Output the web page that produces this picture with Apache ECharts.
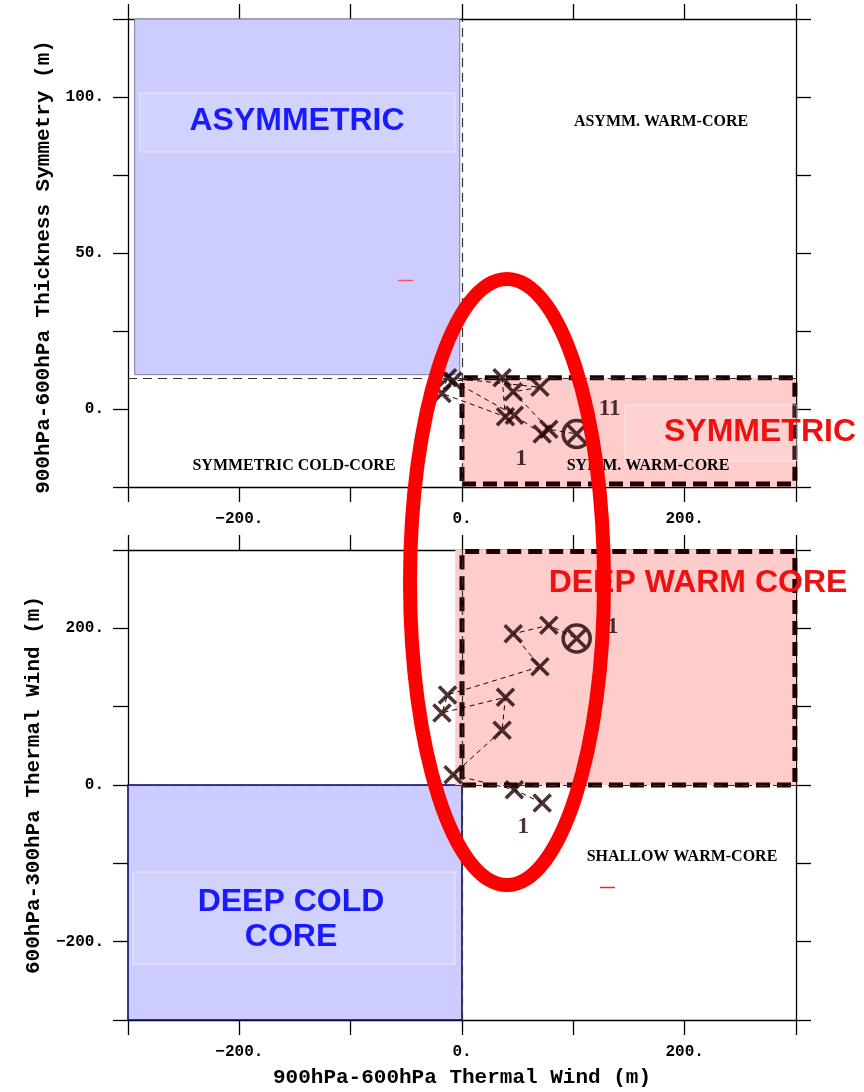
<!DOCTYPE html>
<html>
<head>
<meta charset="utf-8">
<script src="https://cdn.jsdelivr.net/npm/echarts@6/dist/echarts.min.js"></script>
<style>html,body{margin:0;padding:0;background:#fff}#c{width:864px;height:1092px}</style>
</head>
<body>
<div id="c"></div>
<script>
// ---- data (track points 1..11) ----
const lowerThermalWind = [72, 47, -8, 36, 39, -18, -13, 70, 46, 78, 103];   // 900-600hPa thermal wind (x)
const thicknessSymmetry = [-8, -2, 9, 10, -2.5, 5, 10, 7, 5.5, -6.5, -8];   // top panel y
const upperThermalWind = [-23, -6, 13, 70, 112, 92, 115, 151, 193, 204, 187]; // bottom panel y
const pointNames = ['1', '', '', '', '', '', '', '', '', '', '11'];
const xLabelValues = [-200, 0, 200];
const topYLabelValues = [0, 50, 100];
const bottomYLabelValues = [-200, 0, 200];

const DARK = '#220000';
const MONO = '"Liberation Mono", monospace';
const SERIF = '"Liberation Serif", serif';
const SANS = '"Liberation Sans", Arial, sans-serif';

function fmt(v) { return (v < 0 ? '\u2212' + (-v) : String(v)) + '.'; }
function labelFor(list) { return function (v) { return list.indexOf(v) >= 0 ? fmt(v) : ''; }; }

const topPts = lowerThermalWind.map((x, i) => [x, thicknessSymmetry[i]]);
const botPts = lowerThermalWind.map((x, i) => [x, upperThermalWind[i]]);

const chart = echarts.init(document.getElementById('c'), null, { renderer: 'canvas' });

const tickStyle = { show: true, inside: false, length: 15, lineStyle: { color: '#000', width: 1.3 } };
const lineStyleAxis = { show: true, onZero: false, lineStyle: { color: '#000', width: 1.3 } };

function xAx(grid, pos, labels, name) {
  return {
    type: 'value', gridIndex: grid, position: pos, min: -300, max: 300, interval: 100,
    axisLine: lineStyleAxis, axisTick: tickStyle, splitLine: { show: false },
    axisLabel: labels ? { show: true, margin: 24, formatter: labelFor(xLabelValues), color: '#000',
      fontFamily: MONO, fontWeight: 'bold', fontSize: 16 } : { show: false },
    name: name || '', nameLocation: 'middle', nameGap: 47,
    nameTextStyle: { fontFamily: MONO, fontWeight: 'bold', fontSize: 21, color: '#000' }
  };
}
function yAx(grid, pos, min, max, interval, vals, name, gap, pad) {
  return {
    type: 'value', gridIndex: grid, position: pos, min: min, max: max, interval: interval,
    axisLine: lineStyleAxis, axisTick: tickStyle, splitLine: { show: false },
    axisLabel: vals ? { show: true, margin: 24, formatter: labelFor(vals), color: '#000',
      fontFamily: MONO, fontWeight: 'bold', fontSize: 16 } : { show: false },
    name: name || '', nameLocation: 'middle', nameGap: gap || 0, nameRotate: 90,
    nameTextStyle: { fontFamily: MONO, fontWeight: 'bold', fontSize: 21, color: '#000', padding: pad || 0 }
  };
}

const xSymbol = 'path://M0,0L10,10M10,0L0,10';

function panelSeries(grid, pts, regions, thresholds, labelOffsets) {
  const ax = { xAxisIndex: grid * 2, yAxisIndex: grid * 2 };
  return [
    Object.assign({
      type: 'line', data: pts, symbol: 'none', z: 3, silent: true,
      lineStyle: { color: DARK, width: 1, type: [5, 4] },
      markArea: { silent: true, data: regions },
      markLine: { silent: true, symbol: 'none', label: { show: false },
        lineStyle: { color: '#333', width: 1.2, type: [9, 6] }, data: thresholds }
    }, ax),
    Object.assign({
      type: 'scatter', z: 4, symbol: xSymbol, symbolSize: 17,
      itemStyle: { color: 'rgba(0,0,0,0)', borderColor: DARK, borderWidth: 3.6 },
      data: pts.map((p, i) => ({
        value: p,
        label: pointNames[i] ? { show: true, formatter: pointNames[i], offset: labelOffsets[i],
          fontFamily: SERIF, fontWeight: 'bold', fontSize: 23, color: '#1a0000', position: 'inside' } : { show: false }
      }))
    }, ax),
    Object.assign({
      type: 'scatter', z: 4, symbol: 'circle', symbolSize: 27,
      itemStyle: { color: 'rgba(0,0,0,0)', borderColor: DARK, borderWidth: 3.6 },
      data: [pts[pts.length - 1]]
    }, ax)
  ];
}

const blueFill = { color: '#ccccff', borderColor: '#7a7a99', borderWidth: 1 };
const pinkFill = { color: '#ffcccc', borderWidth: 0 };
const dashBox = { color: 'rgba(0,0,0,0)', borderColor: DARK, borderWidth: 5, borderType: [14, 7] };

const topRegions = [
  [{ xAxis: -294, yAxis: 11, itemStyle: blueFill }, { xAxis: -2, yAxis: 125 }],
  [{ xAxis: 0, yAxis: -25, itemStyle: pinkFill }, { xAxis: 300, yAxis: 10 }],
  [{ xAxis: 0, yAxis: -24, itemStyle: dashBox }, { xAxis: 299, yAxis: 10 }]
];
const botRegions = [
  [{ xAxis: -300, yAxis: -300, itemStyle: { color: '#ccccff', borderColor: '#000066', borderWidth: 1.5 } }, { xAxis: 0, yAxis: 0 }],
  [{ xAxis: -6, yAxis: 0, itemStyle: pinkFill }, { xAxis: 300, yAxis: 300 }],
  [{ xAxis: 0, yAxis: 0, itemStyle: dashBox }, { xAxis: 299, yAxis: 298 }]
];
const topThresholds = [{ xAxis: 0 }, { yAxis: 10 }];
const botThresholds = [{ xAxis: 0 }, { yAxis: 0 }];

const topLabelOffsets = { 0: [-21, 25], 10: [33, -25] };
const botLabelOffsets = { 0: [-19, 24], 10: [31, -11] };

function smallText(t, x, y) {
  return { type: 'text', z: 6, silent: true, style: { text: t, x: x, y: y, textAlign: 'center', textVerticalAlign: 'middle',
    font: 'bold 16px ' + SERIF, fill: '#000' } };
}
function bigText(t, x, y, col) {
  return { type: 'text', z: 7, silent: true, style: { text: t, x: x, y: y, textAlign: 'center', textVerticalAlign: 'middle',
    font: 'bold 32px ' + SANS, fill: col } };
}
function softBox(x, y, w, h) {
  return { type: 'rect', z: 5, silent: true, shape: { x: x, y: y, width: w, height: h },
    style: { fill: 'rgba(255,255,255,0.12)', stroke: 'rgba(255,255,255,0.55)', lineWidth: 1 } };
}

chart.setOption({
  animation: false,
  grid: [
    { left: 128, right: 68, top: 19, height: 468, outerBoundsMode: 'none', containLabel: false },
    { left: 128, right: 68, top: 550, height: 470, outerBoundsMode: 'none', containLabel: false }
  ],
  xAxis: [
    xAx(0, 'bottom', true), xAx(0, 'top', false),
    xAx(1, 'bottom', true, '900hPa-600hPa Thermal Wind (m)'), xAx(1, 'top', false)
  ],
  yAxis: [
    yAx(0, 'left', -25, 125, 25, topYLabelValues, '900hPa-600hPa Thickness Symmetry (m)', 67, [0, 28, 0, 0]),
    yAx(0, 'right', -25, 125, 25, null),
    yAx(1, 'left', -300, 300, 100, bottomYLabelValues, '600hPa-300hPa Thermal Wind (m)', 84),
    yAx(1, 'right', -300, 300, 100, null)
  ],
  series: [].concat(
    panelSeries(0, topPts, topRegions, topThresholds, topLabelOffsets),
    panelSeries(1, botPts, botRegions, botThresholds, botLabelOffsets)
  ),
  graphic: [
    softBox(140, 93, 315, 59),
    softBox(133, 872, 322, 92),
    softBox(625, 405, 172, 56),
    bigText('ASYMMETRIC', 297, 121, '#1a1aff'),
    bigText('SYMMETRIC', 760, 432, '#ee1111'),
    bigText('DEEP WARM CORE', 698, 583, '#ee1111'),
    bigText('DEEP COLD', 291, 902, '#1a1aff'),
    bigText('CORE', 291, 937, '#1a1aff'),
    smallText('ASYMM. WARM-CORE', 661, 122),
    smallText('SYMMETRIC COLD-CORE', 294, 466),
    smallText('SYMM. WARM-CORE', 648, 466),
    smallText('SHALLOW WARM-CORE', 682, 857),
    { type: 'line', z: 6, silent: true, shape: { x1: 398, y1: 280.5, x2: 413, y2: 280.5 }, style: { stroke: '#ff5060', lineWidth: 1.5 } },
    { type: 'line', z: 6, silent: true, shape: { x1: 600, y1: 887.5, x2: 615, y2: 887.5 }, style: { stroke: '#ff2020', lineWidth: 1.5 } },
    { type: 'ellipse', z: 100, silent: true, shape: { cx: 507, cy: 582, rx: 97, ry: 303 },
      style: { fill: 'none', stroke: '#ff0000', lineWidth: 14 } }
  ]
});
</script>
</body>
</html>
